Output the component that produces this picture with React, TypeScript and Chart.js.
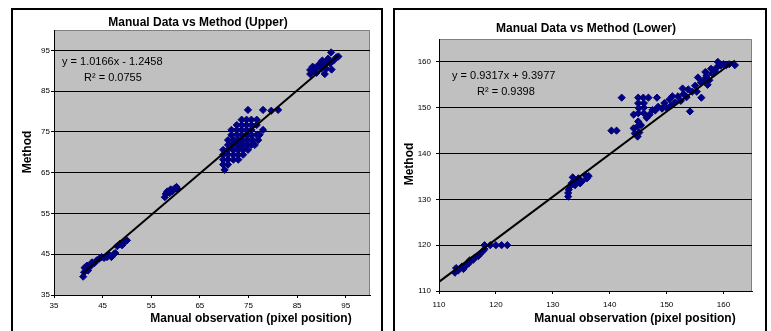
import React, { useEffect, useRef } from "react";
import { Chart, registerables } from "chart.js";
Chart.register(...registerables);

// ---------- Upper chart data ----------
const upperTitle = "Manual Data vs Method (Upper)";
const upperEquation = "y = 1.0166x - 1.2458";
const upperR2 = "R² = 0.0755";
const upperXTicks = [35, 45, 55, 65, 75, 85, 95];
const upperYTicks = [35, 45, 55, 65, 75, 85, 95];
const upperManual = [
  41, 41.2, 41.3, 41.8, 42, 42.4, 42.8, 43.3, 43.8, 44.3, 44.8, 45.3, 45.9, 46.3, 46.8, 47.3, 47.6, 48, 48.5, 49, 49.5, 50,
  57.8, 58, 58.3, 58.8, 59, 59.4, 59.8, 60.2, 60.5,
  74.9, 78, 79.7, 81.1,
  73.6, 74.6, 75.6, 76.7,
  72.6, 73.6, 74.6, 75.6, 76.7,
  71.5, 72.6, 73.6, 74.6, 75.6, 78,
  71.5, 72.6, 73.6, 74.6, 75.6, 76.7, 77.3,
  70.8, 71.9, 72.9, 73.9, 74.9, 75.9, 77,
  70.8, 71.5, 72.6, 73.6, 74.6, 75.6, 76.3,
  69.8, 70.8, 71.9, 72.9, 73.9, 74.9,
  69.8, 70.8, 71.9, 72.9, 73.9,
  69.8, 70.8, 71.9, 72.9,
  69.8, 70.8,
  70.1,
  87.7, 87.7, 88.2, 88.5, 89, 89.3, 89.7, 90, 90.5, 90.7, 91, 91, 91.4, 91.8, 92, 92.1, 92.5, 93.1, 93.5, 90.2, 88.8,
];
const upperMethod = [
  39.5, 40.6, 41.7, 42.2, 41, 41.9, 43, 42.8, 43.5, 43.9, 44.3, 44.1, 44.3, 44.9, 44.3, 45, 45.3, 47, 47.5, 47.2, 47.9, 48.4,
  59, 59.8, 60.4, 60, 60.9, 60.5, 61.1, 61.5, 60.9,
  80.4, 80.4, 80.2, 80.4,
  78, 78, 78, 78,
  76.7, 76.7, 76.7, 76.7, 76.7,
  75.5, 75.5, 75.5, 75.5, 75.5, 75.5,
  74.3, 74.3, 74.3, 74.3, 74.3, 74.3, 74.3,
  73, 73, 73, 73, 73, 73, 73,
  71.8, 71.8, 71.8, 71.8, 71.8, 71.8, 71.8,
  70.6, 70.6, 70.6, 70.6, 70.6, 70.6,
  69.4, 69.4, 69.4, 69.4, 69.4,
  68.2, 68.2, 68.2, 68.2,
  67, 67,
  65.7,
  90.2, 89.2, 91, 90, 89.5, 91, 91.8, 90.5, 91.2, 89.2, 90.5, 92.3, 93, 91.8, 94.5, 90.3, 92.5, 93.3, 93.5, 92.5, 90.8,
];
const upperTrendX = [41, 93.5];
const upperTrendY = [40.4, 93.8];

// ---------- Lower chart data ----------
const lowerTitle = "Manual Data vs Method (Lower)";
const lowerEquation = "y = 0.9317x + 9.3977";
const lowerR2 = "R² = 0.9398";
const lowerXTicks = [110, 120, 130, 140, 150, 160];
const lowerYTicks = [110, 120, 130, 140, 150, 160];
const lowerManual = [
  112.8, 113, 113.4, 114, 114.3, 114.8, 115.2, 115.4, 116, 116.3, 116.9, 117.3, 117.6, 118, 118, 119, 120, 121, 122,
  132.7, 132.7, 132.8, 133, 133.3, 133.9, 133.9, 134.5, 134.8, 135.1, 135.7, 136, 136.3, 133.5,
  140.3, 141.2, 142.1,
  144.9, 144.4, 145.2, 144.2, 144.8, 145.5, 145, 144.2, 145, 145.1, 146, 145, 146, 145, 145.9, 146.8, 148.3, 146, 146.5,
  147, 147.5, 148, 148.5, 149.2, 150, 150.8, 151.5, 150.5, 152, 152.5, 153, 153.5, 153.8, 154.5, 154.1, 155, 155.3,
  156.1, 156, 156.5, 157, 157.5, 157.2, 158, 158.5, 158.8, 159, 159.5, 160, 160.5, 161, 162, 157.8, 156.8, 155.5,
  152.8, 151, 149.6,
];
const lowerMethod = [
  114, 115, 114.5, 115.3, 114.8, 115.6, 116, 116.7, 116.8, 117.3, 117.6, 118.2, 118.6, 119.1, 120, 120, 120, 120, 120,
  130.6, 131.4, 132.1, 132.8, 133.5, 134.1, 133.1, 134.6, 133.5, 133.9, 135.3, 134.6, 135.1, 134.8,
  145, 145, 152.2,
  143.7, 144.4, 144.6, 145.5, 145.8, 146.2, 147, 148.5, 148.8, 149.9, 150, 151, 151, 152.2, 152.2, 152.2, 152.2, 148.8, 147.8,
  148.5, 149.5, 149.4, 150.2, 149.8, 150, 150.5, 151.2, 151.8, 152.5, 151.5, 153, 152.3, 154, 153.5, 149.2, 154.8, 153.5,
  152.2, 155.5, 156, 157, 156, 155, 157.5, 158, 158.8, 160, 159.2, 159.5, 159.3, 159.5, 159.3, 158.5, 157.8, 156.6,
  154.2, 152.5, 151,
];
const lowerTrendX = [110, 162];
const lowerTrendY = [112, 160.3];

const FONT = "'Liberation Sans', Arial, sans-serif";

type Panel = {
  title: string;
  equation: string;
  r2: string;
  xs: number[];
  ys: number[];
  trendX: number[];
  trendY: number[];
  xTicks: number[];
  yTicks: number[];
  xMin: number;
  xMax: number;
  yMin: number;
  yMax: number;
  left: number;
  width: number;
  height: number;
  padTop: number;
  padRight: number;
  yAxisW: number;
  xAxisH: number;
  xTickPad: number;
  yTickPad: number;
  titlePos: [number, number];
  yTitlePos: [number, number];
  xTitlePos: [number, number];
  eqPos: [number, number];
  r2Pos: [number, number];
};

const upperPanel: Panel = {
  title: upperTitle,
  equation: upperEquation,
  r2: upperR2,
  xs: upperManual,
  ys: upperMethod,
  trendX: upperTrendX,
  trendY: upperTrendY,
  xTicks: upperXTicks,
  yTicks: upperYTicks,
  xMin: 35,
  xMax: 100,
  yMin: 35,
  yMax: 100,
  left: 13,
  width: 368,
  height: 321,
  padTop: 20,
  padRight: 11,
  yAxisW: 41,
  xAxisH: 36,
  xTickPad: 3,
  yTickPad: 1,
  titlePos: [185, 13],
  yTitlePos: [15, 142],
  xTitlePos: [238, 309],
  eqPos: [49, 52],
  r2Pos: [71, 68],
};

const lowerPanel: Panel = {
  title: lowerTitle,
  equation: lowerEquation,
  r2: lowerR2,
  xs: lowerManual,
  ys: lowerMethod,
  trendX: lowerTrendX,
  trendY: lowerTrendY,
  xTicks: lowerXTicks,
  yTicks: lowerYTicks,
  xMin: 110,
  xMax: 165,
  yMin: 110,
  yMax: 165,
  left: 395,
  width: 370,
  height: 321,
  padTop: 29,
  padRight: 13,
  yAxisW: 44,
  xAxisH: 40,
  xTickPad: 6,
  yTickPad: 5,
  titlePos: [191, 19],
  yTitlePos: [15, 154],
  xTitlePos: [240, 309],
  eqPos: [57, 66],
  r2Pos: [82, 82],
};

function makeDecor(p: Panel) {
  return {
    id: "decor",
    beforeDraw(chart: any) {
      const { ctx, chartArea: a } = chart;
      ctx.save();
      ctx.fillStyle = "#c0c0c0";
      ctx.fillRect(a.left, a.top, a.right - a.left, a.bottom - a.top);
      ctx.strokeStyle = "#808080";
      ctx.lineWidth = 1;
      ctx.beginPath();
      ctx.moveTo(Math.round(a.left), Math.round(a.top) + 0.5);
      ctx.lineTo(Math.round(a.right) - 0.5, Math.round(a.top) + 0.5);
      ctx.lineTo(Math.round(a.right) - 0.5, Math.round(a.bottom));
      ctx.stroke();
      ctx.restore();
    },
    afterDraw(chart: any) {
      const { ctx } = chart;
      ctx.save();
      ctx.fillStyle = "#000";
      ctx.textBaseline = "middle";
      ctx.font = `bold 12px ${FONT}`;
      ctx.textAlign = "center";
      ctx.fillText(p.title, p.titlePos[0], p.titlePos[1]);
      ctx.fillText("Manual observation (pixel position)", p.xTitlePos[0], p.xTitlePos[1]);
      ctx.save();
      ctx.translate(p.yTitlePos[0], p.yTitlePos[1]);
      ctx.rotate(-Math.PI / 2);
      ctx.fillText("Method", 0, 0);
      ctx.restore();
      ctx.font = `11px ${FONT}`;
      ctx.textAlign = "left";
      ctx.fillText(p.equation, p.eqPos[0], p.eqPos[1]);
      ctx.fillText(p.r2, p.r2Pos[0], p.r2Pos[1]);
      ctx.restore();
    },
  };
}

function ScatterPanel({ p }: { p: Panel }) {
  const ref = useRef<HTMLCanvasElement | null>(null);
  useEffect(() => {
    if (!ref.current) return;
    const points = p.xs.map((x, i) => ({ x, y: p.ys[i] }));
    const trend = p.trendX.map((x, i) => ({ x, y: p.trendY[i] }));
    const chart = new Chart(ref.current, {
      type: "scatter",
      data: {
        datasets: [
          {
            data: trend,
            showLine: true,
            borderColor: "#000",
            borderWidth: 2,
            pointRadius: 0,
            order: 0,
          } as any,
          {
            data: points,
            pointStyle: "rectRot",
            pointRadius: 3.6,
            backgroundColor: "#000080",
            borderColor: "#000080",
            borderWidth: 1,
            order: 1,
          } as any,
        ],
      },
      options: {
        animation: false,
        responsive: false,
        devicePixelRatio: 1,
        events: [],
        layout: { padding: { top: p.padTop, right: p.padRight, left: 0, bottom: 0 } },
        plugins: {
          legend: { display: false },
          title: { display: false },
          tooltip: { enabled: false },
        },
        scales: {
          x: {
            type: "linear",
            min: p.xMin,
            max: p.xMax,
            afterFit: (s: any) => {
              s.height = p.xAxisH;
            },
            afterBuildTicks: (s: any) => {
              s.ticks = p.xTicks.map((v) => ({ value: v }));
            },
            grid: {
              drawOnChartArea: false,
              drawTicks: true,
              tickLength: 3,
              color: "#000",
            },
            border: { display: true, color: "#000", width: 1 },
            ticks: {
              font: { family: FONT, size: 8 },
              color: "#000",
              padding: p.xTickPad,
              maxRotation: 0,
              autoSkip: false,
              callback: (v: any) => String(v),
            },
          },
          y: {
            type: "linear",
            min: p.yMin,
            max: p.yMax,
            afterFit: (s: any) => {
              s.width = p.yAxisW;
            },
            afterBuildTicks: (s: any) => {
              s.ticks = p.yTicks.map((v) => ({ value: v }));
            },
            grid: {
              drawOnChartArea: true,
              drawTicks: true,
              tickLength: 3,
              color: "#000",
            },
            border: { display: true, color: "#000", width: 1 },
            ticks: {
              font: { family: FONT, size: 8 },
              color: "#000",
              padding: p.yTickPad,
              autoSkip: false,
              callback: (v: any) => String(v),
            },
          },
        },
      } as any,
      plugins: [makeDecor(p)],
    });
    return () => chart.destroy();
  }, [p]);
  return (
    <canvas
      ref={ref}
      width={p.width}
      height={p.height}
      style={{ position: "absolute", left: p.left, top: 10, width: p.width, height: p.height }}
    />
  );
}

export default function App() {
  return (
    <div
      style={{
        position: "absolute",
        left: 0,
        top: 0,
        width: 771,
        height: 331,
        overflow: "hidden",
        background: "#fff",
      }}
    >
      <div
        style={{
          position: "absolute",
          left: 11,
          top: 8,
          width: 372,
          height: 340,
          border: "2px solid #000",
          boxSizing: "border-box",
        }}
      />
      <div
        style={{
          position: "absolute",
          left: 393,
          top: 8,
          width: 374,
          height: 340,
          border: "2px solid #000",
          boxSizing: "border-box",
        }}
      />
      <ScatterPanel p={upperPanel} />
      <ScatterPanel p={lowerPanel} />
    </div>
  );
}
